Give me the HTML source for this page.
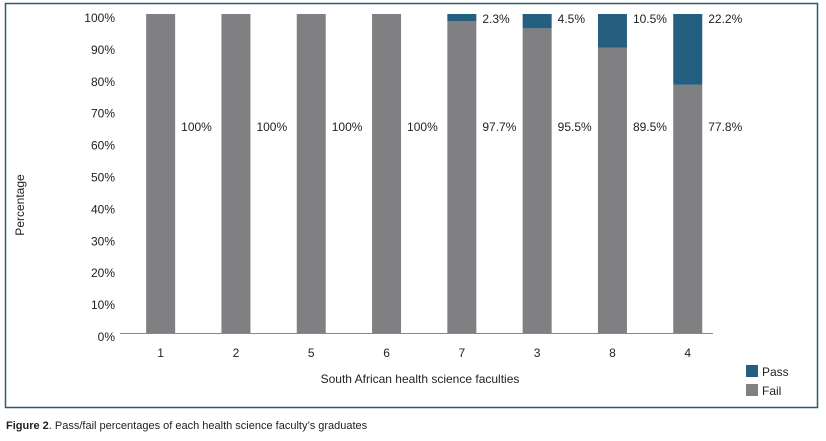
<!DOCTYPE html>
<html><head><meta charset="utf-8"><style>
body{margin:0;background:#fff;font-family:"Liberation Sans",Arial,sans-serif;}
svg text{font-family:"Liberation Sans",Arial,sans-serif;}
</style></head><body>
<svg id="c" width="826" height="436" xmlns="http://www.w3.org/2000/svg">
<rect x="5.5" y="3.5" width="812" height="404" fill="none" stroke="#2e5a6b" stroke-width="1.5"/>
<g id="plot"></g>
<text x="24" y="205" font-size="12" text-anchor="middle" transform="rotate(-90 24 205)" fill="#222">Percentage</text>
<text x="420" y="383" font-size="12" text-anchor="middle" fill="#222">South African health science faculties</text>
<rect x="746" y="365" width="12" height="12" fill="#245f80"/>
<text x="762" y="376" font-size="12" fill="#222">Pass</text>
<rect x="746" y="384" width="12" height="12" fill="#808083"/>
<text x="762" y="395" font-size="12" fill="#222">Fail</text>
<text x="6" y="429" font-size="11" fill="#222"><tspan font-weight="bold">Figure 2</tspan>. Pass/fail percentages of each health science faculty’s graduates</text>
</svg>
<script>
const categories=["1","2","5","6","7","3","8","4"];
const failValues=[100,100,100,100,97.7,95.5,89.5,77.8];
const passValues=[0,0,0,0,2.3,4.5,10.5,22.2];
const yTicks=[0,10,20,30,40,50,60,70,80,90,100];
const NS="http://www.w3.org/2000/svg";
const g=document.getElementById("plot");
const y0=333,y100=14,x0=123,step=75.3,bw=29;
function yS(v){return y0-(y0-y100)*v/100;}
function xC(i){return x0+step*(i+0.5);}
function mk(t,a){const e=document.createElementNS(NS,t);for(const k in a)e.setAttribute(k,a[k]);g.appendChild(e);return e;}
yTicks.forEach(v=>{
 const t=mk("text",{x:115,y:yS(v)+8,"font-size":12,"text-anchor":"end",fill:"#222"});
 t.textContent=v+"%";
 
 
});
const ax=mk("line",{x1:120,x2:713,y1:y0+0.5,y2:y0+0.5,stroke:"#888","stroke-width":1});


categories.forEach((c,i)=>{
 const cx=xC(i),bx=cx-bw/2;
 const f=mk("rect",{x:bx,y:yS(failValues[i]),width:bw,height:y0-yS(failValues[i]),fill:"#808083"});
 
 
 if(passValues[i]>0){
  const p=mk("rect",{x:bx,y:yS(failValues[i]+passValues[i]),width:bw,height:yS(failValues[i])-yS(failValues[i]+passValues[i]),fill:"#245f80"});
  
  
  const pl=mk("text",{x:bx+bw+6,y:yS(100)+9,"font-size":12,fill:"#222"});
  pl.textContent=passValues[i]+"%";
  
  
 }
 const fl=mk("text",{x:bx+bw+6,y:131,"font-size":12,fill:"#222"});
 fl.textContent=failValues[i]+"%";
 
 
 const xl=mk("text",{x:cx,y:357,"font-size":12,"text-anchor":"middle",fill:"#222"});
 xl.textContent=c;
 
 
});
</script>
</body></html>
